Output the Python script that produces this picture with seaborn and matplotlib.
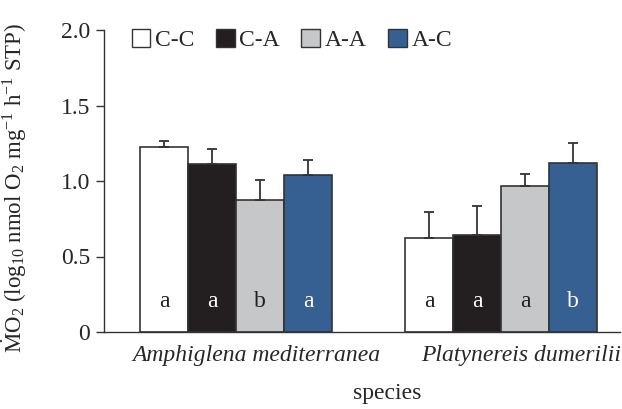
import matplotlib
matplotlib.use("Agg")
import matplotlib.pyplot as plt
import matplotlib.transforms as mtransforms
from matplotlib.patches import Patch
import numpy as np
import pandas as pd
import seaborn as sns

species = ["Amphiglena mediterranea", "Platynereis dumerilii"]
treatments = ["C-C", "C-A", "A-A", "A-C"]
mo2_amphiglena = [1.225, 1.113, 0.872, 1.038]
mo2_platynereis = [0.625, 0.640, 0.969, 1.121]
sem_amphiglena = [0.040, 0.097, 0.135, 0.101]
sem_platynereis = [0.168, 0.192, 0.079, 0.133]
letters_amphiglena = ["a", "a", "b", "a"]
letters_platynereis = ["a", "a", "a", "b"]
colors = ["#ffffff", "#231f20", "#c6c7c9", "#366092"]
letter_colors = ["#231f20", "#ffffff", "#231f20", "#ffffff"]

df = pd.DataFrame({
    "species": [species[0]] * 4 + [species[1]] * 4,
    "treatment": treatments * 2,
    "mo2": mo2_amphiglena + mo2_platynereis,
    "err": sem_amphiglena + sem_platynereis,
    "letter": letters_amphiglena + letters_platynereis,
})

sns.set_theme(style="ticks")
plt.rcParams["font.family"] = ["Liberation Serif", "DejaVu Serif"]
plt.rcParams["mathtext.fontset"] = "custom"
plt.rcParams["mathtext.rm"] = "Liberation Serif"
plt.rcParams["mathtext.it"] = "Liberation Serif:italic"

FS = 17

fig = plt.figure(figsize=(6.22, 4.09), dpi=100)
ax = fig.add_axes([104 / 622, 1 - 332 / 409, 516 / 622, 302 / 409])

sns.barplot(data=df, x="species", y="mo2", hue="treatment", order=species,
            hue_order=treatments, palette=colors, width=0.725, errorbar=None,
            edgecolor="#333333", linewidth=1.2, saturation=1, legend=False, ax=ax)

# bar patches come grouped by hue, then by species
for i, t in enumerate(treatments):
    for j, s in enumerate(species):
        patch = ax.patches[i * len(species) + j]
        row = df[(df["species"] == s) & (df["treatment"] == t)].iloc[0]
        xc = patch.get_x() + patch.get_width() / 2
        ax.errorbar(xc, row["mo2"], yerr=[[0], [row["err"]]], fmt="none",
                    ecolor="#333333", elinewidth=1.3, capsize=3.5, capthick=1.3,
                    zorder=1)
        ax.text(xc, 0.2, row["letter"], ha="center", va="center", fontsize=FS,
                color=letter_colors[i], zorder=5)

ax.set_ylim(0, 2.0)
ax.set_xlim(-0.498, 1.449)
ax.set_yticks([0, 0.5, 1.0, 1.5, 2.0])
ax.set_yticklabels(["0", "0.5", "1.0", "1.5", "2.0"], fontsize=FS)
ax.tick_params(axis="y", length=6, width=1, color="#333333", pad=4)
ax.tick_params(axis="x", length=0, pad=9)
for lab in ax.get_xticklabels():
    lab.set_fontstyle("italic")
    lab.set_fontsize(FS)
    lab.set_transform(lab.get_transform() +
                      mtransforms.ScaledTranslation(0.2, 0, fig.dpi_scale_trans))

sns.despine(ax=ax)
for sp in ("left", "bottom"):
    ax.spines[sp].set_color("#333333")
    ax.spines[sp].set_linewidth(1.0)

ax.set_xlabel("species", fontsize=FS)
ax.xaxis.set_label_coords(0.548, -0.17)
ax.set_ylabel(r"$\dot{\mathrm{M}}\mathrm{O}_2$ (log$_{10}$ nmol O$_2$ mg$^{-1}$ h$^{-1}$ STP)",
              fontsize=16.5)
ax.yaxis.set_label_coords(-0.145, 0.477)

handles = [Patch(facecolor=c, edgecolor="#333333", linewidth=1.0) for c in colors]
ax.legend(handles, treatments, loc="upper left", bbox_to_anchor=(0.035, 1.035),
          ncol=4, frameon=False, fontsize=FS, handlelength=0.8, handleheight=0.8,
          handletextpad=0.2, columnspacing=0.9, borderaxespad=0)

fig.savefig("out.png", dpi=100)
